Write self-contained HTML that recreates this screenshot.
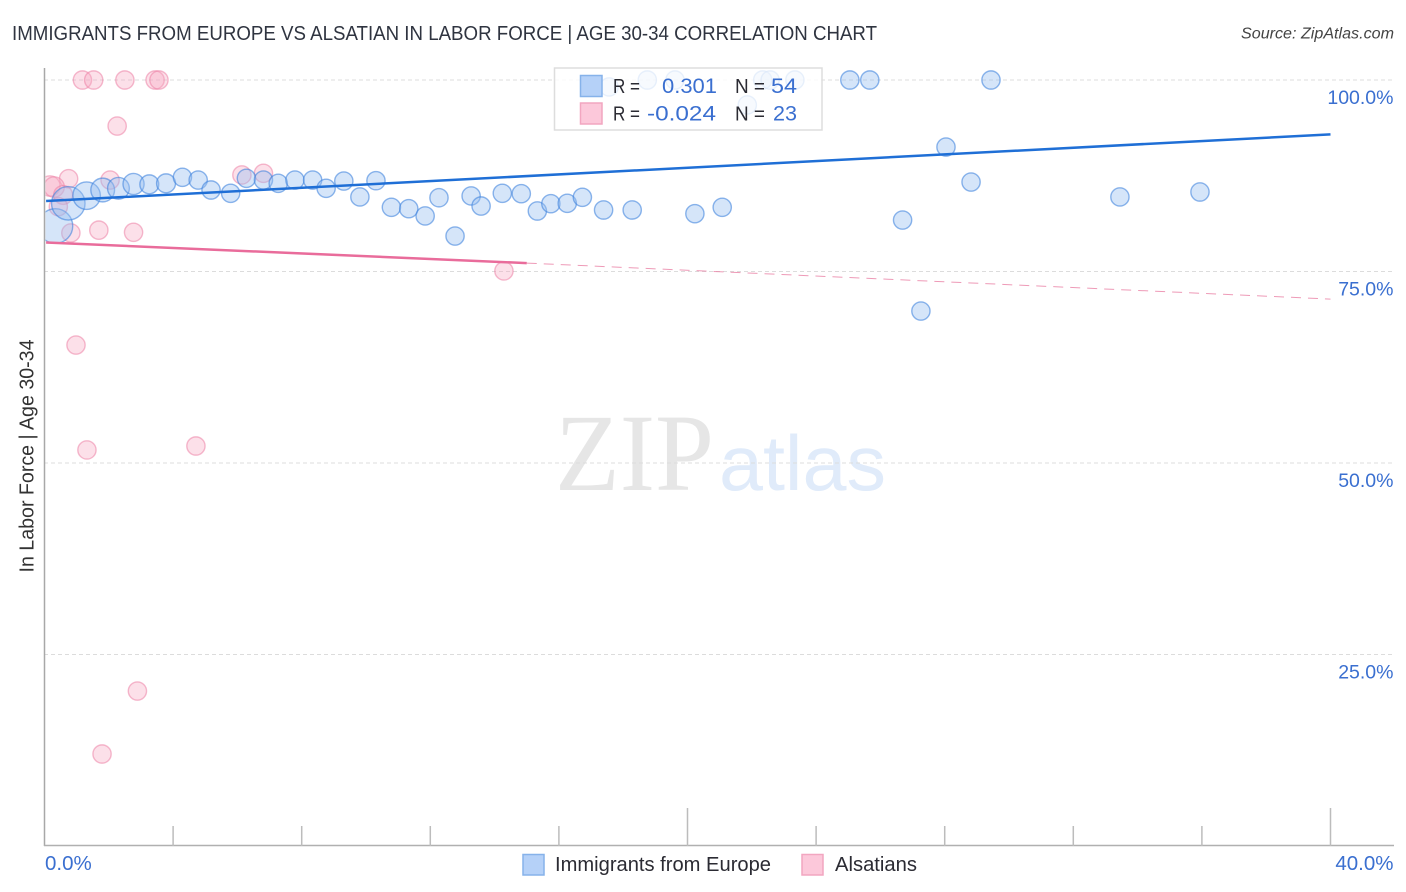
<!DOCTYPE html>
<html lang="en">
<head>
<meta charset="utf-8">
<title>Immigrants from Europe vs Alsatian in Labor Force | Age 30-34 Correlation Chart</title>
<style>
html,body{margin:0;padding:0;background:#fff;width:1406px;height:892px;overflow:hidden}
svg{display:block;font-family:"Liberation Sans",sans-serif}
</style>
</head>
<body>
<svg id="chart" xmlns="http://www.w3.org/2000/svg" width="1406" height="892" viewBox="0 0 1406 892">
  <defs><clipPath id="plot-clip"><rect x="45.5" y="60" width="1348" height="786"/></clipPath></defs>
  <text x="12" y="40" font-size="20" fill="#2f3440" textLength="865" lengthAdjust="spacingAndGlyphs">IMMIGRANTS FROM EUROPE VS ALSATIAN IN LABOR FORCE | AGE 30-34 CORRELATION CHART</text>
  <text x="1394" y="38.5" font-size="15.5" font-style="italic" fill="#444" text-anchor="end" textLength="153" lengthAdjust="spacingAndGlyphs">Source: ZipAtlas.com</text>
  <g>
    <text x="555" y="490" font-family="'Liberation Serif',serif" font-size="110" fill="#e6e6e6" textLength="159" lengthAdjust="spacingAndGlyphs">ZIP</text>
    <text x="719" y="490" font-size="78" fill="#e0ebfa" textLength="167" lengthAdjust="spacingAndGlyphs">atlas</text>
  </g>
  <g id="grid"></g>
  <g id="pink-points" clip-path="url(#plot-clip)"></g>
  <g id="blue-points" clip-path="url(#plot-clip)"></g>
  <g id="trends"></g>
  <g id="axes"></g>
  <g id="y-labels"></g>
  <g id="x-labels"></g>
  <text transform="translate(33.5,456) rotate(-90)" font-size="20" fill="#333" text-anchor="middle" textLength="233" lengthAdjust="spacingAndGlyphs">In Labor Force | Age 30-34</text>

  <g>
    <rect x="554.5" y="68" width="267.5" height="62" fill="#fff" fill-opacity="0.8" stroke="#dddddd" stroke-width="1.5"/>
    <rect x="580.5" y="75.5" width="21.5" height="21" fill="#b5d1f8" stroke="#86b2ea" stroke-width="1.5"/>
    <rect x="580.5" y="103" width="21.5" height="21" fill="#fcc8da" stroke="#f2a6c0" stroke-width="1.5"/>
    <text x="613" y="93" font-size="20" fill="#2b2b33" textLength="27" lengthAdjust="spacingAndGlyphs">R =</text>
    <text x="662" y="93" font-size="21.5" fill="#3a6fd0" textLength="55" lengthAdjust="spacingAndGlyphs">0.301</text>
    <text x="735" y="93" font-size="20" fill="#2b2b33" textLength="30" lengthAdjust="spacingAndGlyphs">N =</text>
    <text x="771" y="93" font-size="21.5" fill="#3a6fd0" textLength="26" lengthAdjust="spacingAndGlyphs">54</text>
    <text x="613" y="120.5" font-size="20" fill="#2b2b33" textLength="27" lengthAdjust="spacingAndGlyphs">R =</text>
    <text x="647" y="120.5" font-size="21.5" fill="#3a6fd0" textLength="69" lengthAdjust="spacingAndGlyphs">-0.024</text>
    <text x="735" y="120.5" font-size="20" fill="#2b2b33" textLength="30" lengthAdjust="spacingAndGlyphs">N =</text>
    <text x="773" y="120.5" font-size="21.5" fill="#3a6fd0" textLength="24" lengthAdjust="spacingAndGlyphs">23</text>
  </g>

  <g>
    <rect x="523" y="854.5" width="21" height="20.5" fill="#b5d1f8" stroke="#86b2ea" stroke-width="1.5"/>
    <text x="555" y="871" font-size="20" fill="#2b2b33" textLength="216" lengthAdjust="spacingAndGlyphs">Immigrants from Europe</text>
    <rect x="802" y="854.5" width="21" height="20.5" fill="#fcc8da" stroke="#f2a6c0" stroke-width="1.5"/>
    <text x="835" y="871" font-size="20" fill="#2b2b33" textLength="82" lengthAdjust="spacingAndGlyphs">Alsatians</text>
  </g>
</svg>
<script>
var blueX = [0.34,0.74,1.31,1.81,2.30,2.77,3.26,3.78,4.29,4.78,5.18,5.79,6.28,6.81,7.27,7.79,8.34,8.76,9.31,9.81,10.31,10.79,11.33,11.84,12.27,12.77,13.27,13.58,14.24,14.83,15.33,15.75,16.26,16.73,17.39,18.28,20.23,21.08,26.69,27.26,28.04,28.82,33.45,35.94,25.05,25.67,29.44,17.56,18.75,19.61,22.34,22.57,23.34,21.86];
var blueY = [80.94,83.90,84.90,85.64,85.86,86.42,86.38,86.51,87.30,86.94,85.64,85.21,87.17,86.94,86.51,86.94,86.94,85.86,86.81,84.73,86.85,83.38,83.20,82.25,84.63,79.63,84.86,83.55,85.21,85.16,82.90,83.85,83.90,84.69,83.03,83.03,82.55,83.38,81.72,69.84,91.25,86.68,84.73,85.38,100,100,100,99.09,100,100,100,100,100,96.74];
var blueWeight = [9,8,3.6,1.7,1,0.8,0.3,0.3,0.2,0.2,0.2,0.2,0.2,0.2,0.2,0.2,0.2,0.2,0.2,0.2,0.2,0.2,0.2,0.2,0.2,0.2,0.2,0.2,0.2,0.2,0.2,0.2,0.2,0.2,0.2,0.2,0.2,0.2,0.2,0.2,0.2,0.2,0.2,0.2,0.2,0.2,0.2,0.2,0.2,0.2,0.2,0.2,0.2,0.2];
var pinkX = [1.18,1.53,2.50,3.44,3.56,2.26,0.75,0.17,0.30,0.58,0.43,0.82,1.69,2.77,2.04,6.14,6.81,14.29,0.98,1.32,4.71,2.89,1.79];
var pinkY = [100,100,100,100,100,93.99,87.11,86.16,86.03,84.99,83.46,80.03,80.40,80.12,86.94,87.60,87.82,75.07,65.40,51.70,52.22,20.23,12.01];
var pinkWeight = [0.2,0.2,0.2,0.2,0.2,0.2,0.2,0.6,0.6,0.3,0.2,0.2,0.2,0.2,0.2,0.2,0.2,0.2,0.2,0.2,0.2,0.2,0.2];
var blueTrendX = [0.05, 40];
var blueTrendY = [84.2, 92.9];
var pinkTrendX = [0.05, 15];
var pinkTrendY = [78.78, 76.1];
var pinkDashX = [15, 40];
var pinkDashY = [76.1, 71.4];
var yTicks = [100, 75, 50, 25];
var yTickLabels = ["100.0%", "75.0%", "50.0%", "25.0%"];
var xMinorTicks = [4, 8, 12, 16, 24, 28, 32, 36];
var xMajorTicks = [20, 40];
var xLabelValues = [0, 40];
var xLabels = ["0.0%", "40.0%"];

var NS = "http://www.w3.org/2000/svg";
function xPos(v) { return 44.5 + v * 32.15; }
function yPos(v) { return 846 - v * 7.66; }
function rPos(w) { return 7.7 + 3.2 * Math.sqrt(w); }
function make(tag, parent, attrs) {
  var el = document.createElementNS(NS, tag);
  for (var k in attrs) el.setAttribute(k, attrs[k]);
  parent.appendChild(el);
  return el;
}
var el, i;

var grid = document.getElementById("grid");
for (i = 0; i < yTicks.length; i++) {
  el = make("line", grid, {x1: 44, x2: 1393, y1: yPos(yTicks[i]), y2: yPos(yTicks[i]), stroke: "#dcdcdc", "stroke-width": 1, "stroke-dasharray": "4 3"});
  
  
}

var pinkGroup = document.getElementById("pink-points");
for (i = 0; i < pinkX.length; i++) {
  el = make("circle", pinkGroup, {cx: xPos(pinkX[i]), cy: yPos(pinkY[i]), r: rPos(pinkWeight[i]), fill: "rgba(247,170,195,0.36)", stroke: "rgba(236,130,165,0.55)", "stroke-width": 1.4});
  
  
}

var blueGroup = document.getElementById("blue-points");
for (i = 0; i < blueX.length; i++) {
  el = make("circle", blueGroup, {cx: xPos(blueX[i]), cy: yPos(blueY[i]), r: rPos(blueWeight[i]), fill: "rgba(150,190,240,0.4)", stroke: "rgba(60,130,220,0.58)", "stroke-width": 1.4});
  
  
}

var trends = document.getElementById("trends");
el = make("line", trends, {x1: xPos(blueTrendX[0]), y1: yPos(blueTrendY[0]), x2: xPos(blueTrendX[1]), y2: yPos(blueTrendY[1]), stroke: "#1f6fd6", "stroke-width": 2.5});


el = make("line", trends, {x1: xPos(pinkTrendX[0]), y1: yPos(pinkTrendY[0]), x2: xPos(pinkTrendX[1]), y2: yPos(pinkTrendY[1]), stroke: "#e96c9b", "stroke-width": 2.5});


el = make("line", trends, {x1: xPos(pinkDashX[0]), y1: yPos(pinkDashY[0]), x2: xPos(pinkDashX[1]), y2: yPos(pinkDashY[1]), stroke: "#e8789f", "stroke-opacity": 0.75, "stroke-width": 1, "stroke-dasharray": "10 7"});



var axes = document.getElementById("axes");
el = make("line", axes, {x1: 44.5, x2: 44.5, y1: 68, y2: 846, stroke: "#a8a8a8", "stroke-width": 1.5});


el = make("line", axes, {x1: 44, x2: 1394, y1: 845.5, y2: 845.5, stroke: "#b0b0b0", "stroke-width": 1.5});


for (i = 0; i < xMinorTicks.length; i++) {
  el = make("line", axes, {x1: xPos(xMinorTicks[i]), x2: xPos(xMinorTicks[i]), y1: 826, y2: 846, stroke: "#bcbcbc", "stroke-width": 1.5});
  
  
}
for (i = 0; i < xMajorTicks.length; i++) {
  el = make("line", axes, {x1: xPos(xMajorTicks[i]), x2: xPos(xMajorTicks[i]), y1: 808, y2: 846, stroke: "#bcbcbc", "stroke-width": 1.5});
  
  
}

var yLabelGroup = document.getElementById("y-labels");
for (i = 0; i < yTicks.length; i++) {
  el = make("text", yLabelGroup, {x: 1393.5, y: yPos(yTicks[i]) + 24, "font-size": 19.5, fill: "#3a6fd0", "text-anchor": "end"});
  
  
  el.textContent = yTickLabels[i];
}

var xLabelGroup = document.getElementById("x-labels");
for (i = 0; i < xLabels.length; i++) {
  var anchorEnd = xLabelValues[i] > 20;
  el = make("text", xLabelGroup, {x: anchorEnd ? 1393.5 : xPos(xLabelValues[i]) + 0.5, y: 870, "font-size": 20.5, fill: "#3a6fd0", "text-anchor": anchorEnd ? "end" : "start"});
  
  
  el.textContent = xLabels[i];
}
</script>
</body>
</html>
